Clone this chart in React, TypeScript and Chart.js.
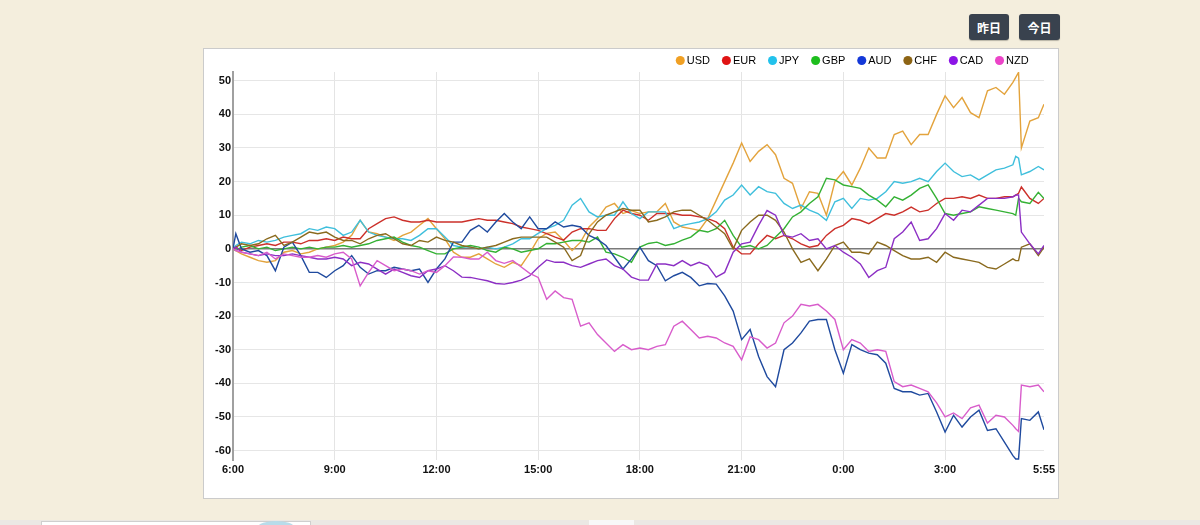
import React, { useEffect, useRef } from "react";
import { Chart, registerables } from "chart.js";

Chart.register(...registerables);

// x categories (time of day; chart starts 6:00 and ends 5:55 next morning)
const times = [
  "6:00", "6:05", "6:15", "6:30", "6:45",
  "7:00", "7:15", "7:30", "7:45",
  "8:00", "8:15", "8:30", "8:45",
  "9:00", "9:15", "9:30", "9:45",
  "10:00", "10:15", "10:30", "10:45",
  "11:00", "11:15", "11:30", "11:45",
  "12:00", "12:15", "12:30", "12:45",
  "13:00", "13:15", "13:30", "13:45",
  "14:00", "14:15", "14:30", "14:45",
  "15:00", "15:15", "15:30", "15:45",
  "16:00", "16:15", "16:30", "16:45",
  "17:00", "17:15", "17:30", "17:45",
  "18:00", "18:15", "18:30", "18:45",
  "19:00", "19:15", "19:30", "19:45",
  "20:00", "20:15", "20:30", "20:45",
  "21:00", "21:15", "21:30", "21:45",
  "22:00", "22:15", "22:30", "22:45",
  "23:00", "23:15", "23:30", "23:45",
  "0:00", "0:15", "0:30", "0:45",
  "1:00", "1:15", "1:30", "1:45",
  "2:00", "2:15", "2:30", "2:45",
  "3:00", "3:15", "3:30", "3:45",
  "4:00", "4:15", "4:30", "4:45",
  "5:00", "5:05", "5:10", "5:15", "5:30", "5:45", "5:55",
];

const xTickLabels = ["6:00", "9:00", "12:00", "15:00", "18:00", "21:00", "0:00", "3:00", "5:55"];
const yTickValues = [50, 40, 30, 20, 10, 0, -10, -20, -30, -40, -50, -60];

const usd = [
  0, -0.5, -1.5, -2.5, -3.5,
  -4, -3.5, -1, -0.5,
  -1.5, -1, 0, 0.5,
  1, 2, 4, 8.5,
  5, 4.5, 3.5, 2.5,
  4, 5, 7, 9,
  6, 3, -1, -2.5,
  -2.5, -1.5, -3, -4.5,
  -5.5, -4, -5, -1.3,
  3, 4.6, 5, 2.5,
  -0.5, 2, 6.5, 9,
  12.4, 13.5, 10.5, 11.4,
  10.5, 11, 11, 13.5,
  8, 6.5, 6, 5.5,
  9, 14.5, 20, 25.5,
  31.5, 26, 29, 31,
  28, 21, 19.5, 12,
  17, 16.5, 10, 20,
  23, 19, 24, 30,
  27, 27, 34, 35,
  31, 34, 34, 40,
  45.5, 42, 45, 40.5,
  39, 47, 48, 46,
  49.5, 51, 52.5, 30, 38, 39, 43,
];

const eur = [
  0, 0.5, -0.5, 0.5, 1,
  1.5, 1, 2, 2,
  1.5, 2.5, 2.5, 3,
  2.5, 3.5, 3, 3,
  6, 7.5, 9, 9.5,
  8.5, 8, 8, 8.5,
  8, 8, 8, 8,
  8.5, 9, 8.5, 8.5,
  8, 7.5, 6.5, 6,
  5.5, 4.5, 3.5, 2.6,
  5, 6, 6, 5.5,
  5.5, 9, 11.5, 10.5,
  10, 8.5, 10.5, 10.5,
  10.5, 10, 10, 9.5,
  9, 8, 6, 0.5,
  -1.5, -1.5, 1.5, 4,
  3, 4, 3, 1.5,
  0.5, 1, 4, 6,
  7, 9, 8.5, 7.5,
  9, 10.5, 10, 11,
  12.4, 11, 11.5, 13.5,
  15, 15, 15.5, 15,
  16, 15, 15, 15.5,
  15.5, 16, 16.5, 18.4, 15, 13.5, 15,
];

const jpy = [
  0, 1, 2, 1.5, 2.5,
  2, 2.5, 3.5, 4,
  4.5, 6, 5.5, 6.5,
  6, 4, 5, 8.5,
  5, 4, 3.5, 3,
  3, 2.5, 4, 6,
  6, 3.5, 1, 0.5,
  0.5, 0, 0.5, 0,
  0.5, 1.5, 3, 3,
  4.6, 6, 7, 8.5,
  13, 15, 11, 9.5,
  10, 10, 14, 10.5,
  9, 11, 11, 11,
  6, 7, 7.5, 8,
  9, 11, 14.5, 16,
  19, 16, 18.5, 17,
  16.5, 13.5, 12, 13,
  11.5, 10.5, 8.5, 14,
  15, 12, 15, 14.5,
  15, 17, 20, 19.5,
  20, 21, 20, 23,
  25.5, 23, 21.5, 22,
  20.5, 22, 23.5, 24,
  25, 27.5, 27, 22, 23, 24.5, 23.5,
];

const gbp = [
  0, -0.5, 0.5, 1, 0,
  0.5, -0.5, 0, 0.5,
  0, 0.5, 0, 0.5,
  0.5, 1, 0.5, 1,
  1.5, 2.5, 3, 3.5,
  2, 1, 0.5, -0.5,
  -1.5, -1.5, 0, 0.5,
  1, 0.5, -0.5, -1,
  0.5, 0, -1, -0.5,
  0, 1.6, 1.5, 2,
  2.5, 2.5, 2, 3.5,
  -1, -1.5, -2.5, -4,
  0.5, 1.6, 2, 1,
  1.5, 2.6, 3.5, 5.5,
  5, 6, 8.5, 4,
  0.5, 1, 0, 1,
  3.5, 6, 9.5, 11,
  13.5, 15.5, 21, 20.5,
  19, 18.5, 18, 16,
  14.5, 12.5, 15.5, 14.5,
  16, 18, 19, 15,
  10.5, 10, 10.5, 11,
  12.5, 12, 11.5, 11,
  10.5, 10, 15, 14, 13.5, 16.8, 15,
];

const aud = [
  0, 4.5, 0, -1, -0.5,
  -2, -6.5, 0.5, 2,
  -2, -7, -7, -8.5,
  -6.5, -5, -2, -5.5,
  -7.5, -6.5, -6.5, -5.5,
  -6, -6.5, -6, -10,
  -6, -3, 2, 2,
  5.5, 7, 5, 8,
  10.5, 8, 6, 9.5,
  6, 6, 8, 6.5,
  7, 6.5, 4, 2.8,
  1, -2.5, -6, -3,
  0.5, -3.5, -5, -9.5,
  -8, -7, -8.5, -11,
  -10.3, -10.5, -14, -18.5,
  -27, -24, -32, -38,
  -41, -30, -28, -25,
  -21.5, -21, -21, -30,
  -37, -28.5, -30, -31,
  -31.5, -34, -41.5, -42.5,
  -42.5, -43.5, -43, -48.5,
  -54.5, -49.5, -53, -50,
  -48, -54, -53.5, -57.5,
  -61.5, -62.5, -62.5, -50.5, -51, -48.5, -53.8,
];

const chf = [
  0, 0.5, 1.5, 1, 1.5,
  3, 4, 1, 2,
  3.5, 5, 4.5, 5,
  3.5, 2.5, 2.5, 1.5,
  3, 4, 4.5, 3,
  1.5, 1, 2.5, 2,
  3.5, 2.5, 2, 1,
  0.5, 0, 0.5, 1,
  2, 3, 3.5, 3.5,
  3.5, 3.5, 2, 0.5,
  -3.5, -2, 4.5, 8,
  10, 11, 12, 11.5,
  11.5, 8, 8.5, 9.5,
  11, 11.5, 11.5, 10,
  8.5, 6.5, 4.5, 0,
  5.5, 8, 10, 10,
  8.5, 5, 0, -4,
  -3, -6.5, -3, 1,
  2, -1, -1, -1.5,
  2, 1, -0.5, -2,
  -3, -3, -2.5, -4,
  -1, -2.5, -3, -3.5,
  -4, -5.5, -6, -4.5,
  -3, -3.5, -3.5, 0.5, 1.5, -2, 0.5,
];

const cad = [
  0, 0.5, -1, -1.5, -2,
  -1.5, -2, -2, -1.5,
  -2, -2.5, -3, -3,
  -2.5, -3, -5, -4,
  -4.5, -6, -7.5, -6,
  -7, -8, -8.5, -6.5,
  -6, -5, -6.5, -8.4,
  -8.5, -9, -9.5, -10.3,
  -10.5, -10, -9.3, -8,
  -5.5, -3.3, -4, -4,
  -5, -5.5, -4.5, -3.5,
  -3, -5, -6, -8.4,
  -9.3, -9.3, -4.5, -4.5,
  -5, -3.5, -5, -4,
  -5, -8.4, -7, -1,
  1.5, 2, 7, 11.4,
  10, 4, 3.5, 4.5,
  2.5, 3, 0, 1,
  -1, -2.5, -4.5, -8.5,
  -6.5, -5.5, 3, 5,
  8, 2.5, 3, 6,
  10.5, 8.5, 11.5, 11,
  13, 15, 15, 15,
  15.5, 16, 16, 5, 1.5, -1.5, 1,
];

const nzd = [
  0, -0.5, -1, -1.5, -2,
  -1, -3, -1.5, -2,
  -2.5, -2.5, -2, -2.5,
  -1.5, -1, -3, -11,
  -7, -3.5, -5, -6.5,
  -6, -6.5, -7.5, -6.5,
  -7, -5, -2.4, -2.5,
  -3, -3, -1, -3.5,
  -4.3, -3.5, -5.4, -7.3,
  -8.5, -15, -12.5, -14.5,
  -15, -23, -22, -25.5,
  -28, -30.5, -28.5, -30,
  -29.5, -30, -29, -28.5,
  -23, -21.5, -24, -26.5,
  -26, -26.5, -28, -29,
  -33, -26.2, -27, -29.5,
  -28, -22, -20, -16.5,
  -17, -16.5, -18.5, -21,
  -30, -27, -28, -30.5,
  -30, -30.5, -39.5, -41,
  -40.5, -41.5, -42.5, -45.8,
  -50, -48.8, -50.5, -47.3,
  -46.5, -51.8, -49.5, -50,
  -52.5, -53.5, -54.3, -40.5, -41, -40.5, -42.5,
];

const names = ["USD", "EUR", "JPY", "GBP", "AUD", "CHF", "CAD", "NZD"];
const seriesValues = [usd, eur, jpy, gbp, aud, chf, cad, nzd];
const lineColors = ["#e3a33c", "#cc302a", "#3fbfdc", "#34b134", "#1f4a9e", "#8a6a1e", "#8c2fc4", "#d85ccb"];
const dotColors = ["#f0a024", "#e01414", "#22c2ec", "#1ebe1e", "#1438d8", "#8d6414", "#8c14e6", "#ec44c8"];

const toMin = (t: string) => {
  const [h, m] = t.split(":").map(Number);
  return (h * 60 + m - 360 + 1440) % 1440;
};
const fromMin = (v: number) => {
  const total = (v + 360) % 1440;
  const h = Math.floor(total / 60);
  const m = total % 60;
  return `${h}:${m < 10 ? "0" + m : m}`;
};

export default function App() {
  const ref = useRef<HTMLCanvasElement>(null);

  useEffect(() => {
    Chart.defaults.font.family = "'Liberation Sans', Arial, sans-serif";
    const xs = times.map(toMin);
    const xTickMinutes = xTickLabels.map(toMin);
    const chart = new Chart(ref.current as HTMLCanvasElement, {
      type: "line",
      data: {
        datasets: names.map((name, i) => ({
          label: name,
          data: seriesValues[i].map((v, j) => ({ x: xs[j], y: v })),
          borderColor: lineColors[i],
          backgroundColor: dotColors[i],
          borderWidth: 1.4,
          pointRadius: 0,
          tension: 0,
          order: names.length - i,
        })),
      },
      options: {
        animation: false,
        responsive: false,
        events: [],
        layout: { padding: { top: -9.4, right: 14, bottom: 0, left: 0 } },
        plugins: {
          legend: {
            position: "top",
            align: "end",
            maxHeight: 32.4,
            labels: {
              usePointStyle: true,
              boxWidth: 2,
              boxHeight: 6.4,
              padding: 15.4,
              color: "#222",
              font: { size: 11 },
              generateLabels: (c: any) =>
                c.data.datasets.map((ds: any, i: number) => ({
                  text: ds.label,
                  fillStyle: dotColors[i],
                  strokeStyle: dotColors[i],
                  lineWidth: 0,
                  pointStyle: "circle",
                  hidden: false,
                  datasetIndex: i,
                })),
            },
          },
          tooltip: { enabled: false },
        },
        scales: {
          x: {
            type: "linear",
            min: 0,
            max: 1435,
            border: { display: false },
            grid: {
              drawTicks: false,
              lineWidth: 1,
              color: (ctx: any) =>
                ctx.tick && (ctx.tick.value === 0 || ctx.tick.value === 1435) ? "rgba(0,0,0,0)" : "#e4e4e4",
            },
            ticks: {
              autoSkip: false,
              maxRotation: 0,
              padding: 3,
              color: "#111",
              font: { size: 11, weight: "bold" },
              callback: (v: any) => fromMin(Number(v)),
            },
            afterBuildTicks: (s: any) => {
              s.ticks = xTickMinutes.map((v) => ({ value: v }));
            },
            afterFit: (s: any) => {
              s.height = 38;
            },
          },
          y: {
            min: -62.8,
            max: 52.6,
            border: { color: "#a0a0a0", width: 2 },
            grid: {
              drawTicks: false,
              color: (ctx: any) => (ctx.tick && ctx.tick.value === 0 ? "#7a7a7a" : "#e6e6e6"),
              lineWidth: (ctx: any) => (ctx.tick && ctx.tick.value === 0 ? 1.5 : 1),
            },
            ticks: {
              padding: 2,
              color: "#111",
              font: { size: 11, weight: "bold" },
            },
            afterBuildTicks: (s: any) => {
              s.ticks = yTickValues.map((v) => ({ value: v }));
            },
            afterFit: (s: any) => {
              s.width = 29;
            },
          },
        },
      } as any,
    });
    return () => chart.destroy();
  }, []);

  const btn: React.CSSProperties = {
    position: "absolute",
    top: 14,
    height: 26,
    background: "#39424e",
    color: "#fff",
    borderRadius: 3,
    fontFamily: "'Noto Sans CJK JP', sans-serif",
    fontWeight: 700,
    fontSize: 12,
    display: "flex",
    alignItems: "center",
    justifyContent: "center",
    boxShadow: "0 1px 1px rgba(0,0,0,0.25)",
  };

  return (
    <div
      style={{
        position: "absolute",
        left: 0,
        top: 0,
        width: 1200,
        height: 525,
        background: "#f4eedd",
        overflow: "hidden",
      }}
    >
      <div style={{ ...btn, left: 969, width: 40 }}>昨日</div>
      <div style={{ ...btn, left: 1019, width: 41 }}>今日</div>
      <div
        style={{
          position: "absolute",
          left: 203,
          top: 48,
          width: 856,
          height: 451,
          boxSizing: "border-box",
          border: "1px solid #cbcbcb",
          background: "#ffffff",
        }}
      >
        <canvas
          ref={ref}
          width={854}
          height={449}
          style={{ position: "absolute", left: 0, top: 0, width: 854, height: 449 }}
        />
      </div>
      <div style={{ position: "absolute", left: 0, top: 520, width: 1200, height: 5, background: "#ebe8e4" }} />
      <div
        style={{
          position: "absolute",
          left: 41,
          top: 521,
          width: 270,
          height: 6,
          boxSizing: "border-box",
          border: "1px solid #cfcfcf",
          background: "#ffffff",
        }}
      />
      <div
        style={{
          position: "absolute",
          left: 258,
          top: 521,
          width: 36,
          height: 12,
          borderRadius: "50%",
          background: "#b8dcea",
        }}
      />
      <div style={{ position: "absolute", left: 589, top: 520, width: 45, height: 5, background: "#f8f8f8" }} />
    </div>
  );
}
